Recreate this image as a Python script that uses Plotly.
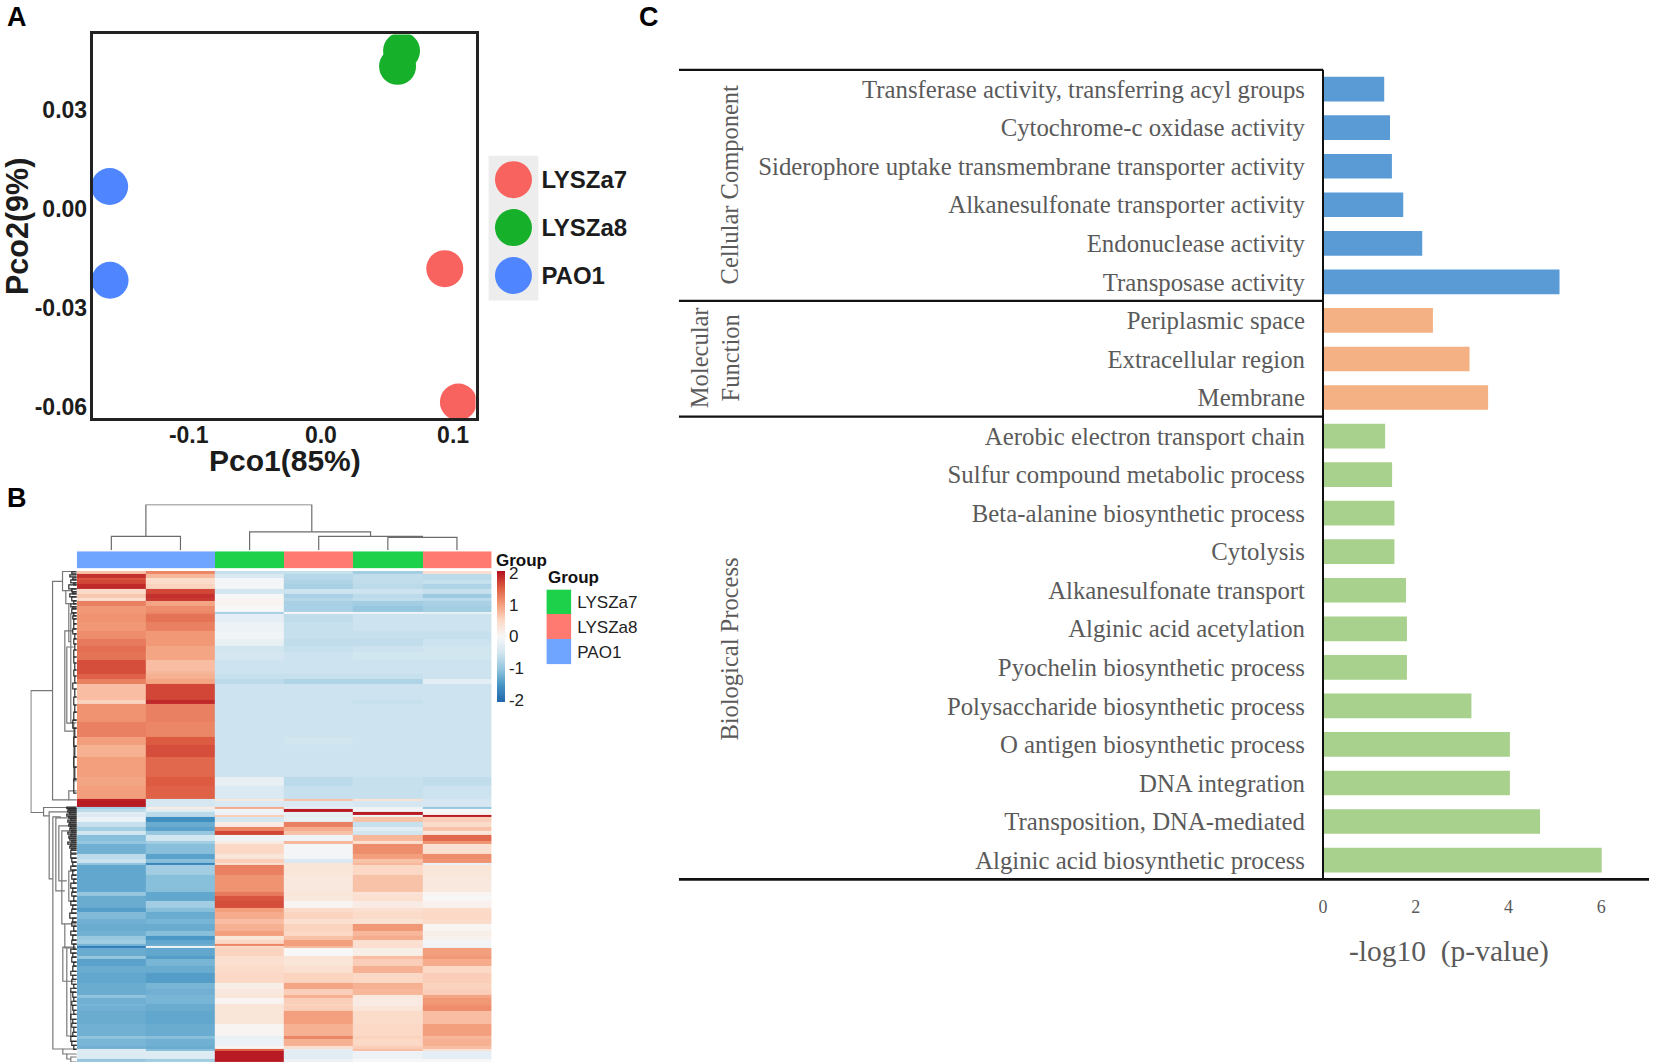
import plotly.graph_objects as go

W, H = 1654, 1064

# ---------- Panel A ----------
pco_groups = ["LYSZa7", "LYSZa8", "PAO1"]
pco_colors = ["#F8625F", "#17B02B", "#4F86FF"]
pco1_red = [0.0937, 0.1040]
pco2_red = [-0.0180, -0.0584]
pco1_green = [0.0610, 0.0580]
pco2_green = [0.0480, 0.0433]
pco1_blue = [-0.1598, -0.1595]
pco2_blue = [0.0069, -0.0215]

# ---------- Panel B ----------
heat_cols = ["PAO1", "PAO1", "LYSZa7", "LYSZa8", "LYSZa7", "LYSZa8"]
band_rows = [2.7,4,2.7,3.3,5.3,4.7,4.7,2.7,5.3,6,2,8,8.3,8.3,6.7,6.7,7.3,11,
             3.3,5,5,16,4.3,18,15,7.3,12,20,9,
             13.3,2,5.7,2.3,2.7,3.3,2.3,4.3,5.7,3.3,4.3,5.7,3.3,10,5,4,2,10,17.3,4,4.3,
             7.7,4,6.7,5,6.7,5.7,3.3,4.3,1.7,2.7,7.3,3.3,6.7,6.7,10.7,6,5.7,2.7,6.7,1.7,
             5,13.3,11.7,2.7,7.3,3.3,2,8,2.7]
c1 = [.7,1.85,1.6,1.7,1.9,.45,.65,.4,1.25,1.05,1.05,1.1,1.05,1.15,1.3,1.4,1.35,1.65,
      1.65,1.5,1.25,.75,.55,1.1,1.25,1.0,.85,1.0,.95,
      1.0,1.95,2,-.9,-.7,-.3,-.4,-.15,-.6,-.9,-.5,-1.1,-1,-1.25,-.7,-.55,-1,-1.35,-1.35,-1,-1.3,
      -1.3,-1.45,-1.15,-1.25,-1.3,-1.25,-1,-.9,-1.2,-1.8,-1.3,-1,-1.4,-1.3,-1.35,-1.3,-1.3,-1.05,-1.25,-1.2,
      -1.25,-1.3,-1.25,-1.05,-1.2,-1.25,-.35,-.35,-1]
c2 = [1.2,.8,.45,.45,.55,1.7,1.85,1.8,.95,1.15,1.2,1.35,1.25,1.05,1.05,.95,.95,.75,
      .8,.85,.95,1.7,1.9,1.25,1.2,1.55,1.65,1.45,1.55,
      1.5,-.45,-.45,.2,-.3,-.7,-.7,-1.6,-1.3,-1.4,-1,-.5,-.9,-1.1,-1.4,-1.1,-1.7,-.9,-1.1,-1.35,-1.35,
      -.9,-1.1,-1.3,-1.2,-1.3,-1.1,-1.5,-1.35,-1.3,-.1,-1.35,-1.45,-1.2,-1.3,-1.45,-1.2,-1.25,-1.2,-1.2,-1.3,
      -1.3,-1.35,-1.3,-1.1,-1.25,-1.3,-1.1,-.35,-.9]
c3 = [-.6,-.4,-.05,-.05,-.05,-.5,0,.05,.05,0,-.85,-.25,-.15,-.1,-.2,-.5,-.45,-.55,
      -.55,-.6,-.7,-.55,-.55,-.55,-.55,-.55,-.55,-.55,-.2,
      -.4,.25,-.4,.9,-.1,-.15,.6,-.5,.2,1.2,1.7,-.1,.2,.5,.3,.6,.4,1.25,1.1,1.3,1.6,
      1.65,1,.9,.75,.85,1,.3,.5,1.2,.5,.55,.4,.4,.45,.5,.15,.25,.3,.05,.3,
      .3,.3,.05,-.2,-.15,.05,1.5,2,2]
c4 = [-.6,-.75,-.75,-.8,-.85,-.55,-.85,-.75,-.85,-.85,0,-.65,-.6,-.6,-.65,-.6,-.55,-.55,
      -.55,-.6,-.8,-.55,-.55,-.55,-.55,-.5,-.55,-.55,-.7,
      -.6,.7,-.4,-.2,2,-.2,-.3,-.2,1.25,.9,.7,-.1,.8,-.05,-.05,-.4,.3,.3,.25,.3,.25,
      .05,.45,.55,.4,.55,.5,.7,1,1,.8,0,.3,.3,.4,.55,.95,.6,.85,.6,.55,
      .6,1,.85,1.2,.85,.4,-.25,-.3,-.15]
c5 = [-.9,-.65,-.65,-.65,-.7,-.55,-.7,-.65,-.9,-1,-.1,-.55,-.55,-.6,-.65,-.55,-.5,-.55,
      -.55,-.6,-.8,-.55,-.6,-.55,-.55,-.55,-.55,-.55,-.6,
      -.6,.35,-.45,-.15,-.1,2,-.1,.7,-.6,-.3,-.5,.8,.4,1.15,1,.7,.8,.5,.7,.35,.4,
      .2,.4,.45,.35,1.05,.8,.9,.4,.4,.4,.15,.75,.6,.85,.5,.85,.8,.25,.2,.2,
      .3,.45,.5,.55,.5,.6,.75,-.15,0]
c6 = [.4,-.7,-.7,-.6,-.8,-.6,-.95,-.7,-.85,-.9,-.2,-.55,-.55,-.6,-.55,-.5,-.5,-.55,
      -.55,-.55,-.25,-.55,-.55,-.55,-.55,-.55,-.55,-.55,-.65,
      -.55,-.45,-.45,-1,0,.05,2,.6,.45,.7,.3,1.45,1.1,.4,1.15,1.1,-.2,.3,.25,.05,0,
      .1,.45,.5,.45,.05,.15,.1,-.05,-.1,-.1,1,1.05,.9,.5,.6,.55,.6,.95,1.05,1.1,
      1.15,.75,1,.8,.85,.75,.35,-.25,0]
colorbar_ticks = [-2, -1, 0, 1, 2]
colorbar_text = ["-2", "-1", "0", "1", "2"]

# column dendrogram: merges (left position, right position, height, left child height, right child height)
col_left = [0.5, 4.5, 3.5, 2.5, 1.0]
col_right = [1.5, 5.5, 5.0, 4.25, 3.4]
col_height = [37, 34, 37, 49, 122]
col_left_child = [0, 0, 0, 0, 37]
col_right_child = [0, 0, 34, 37, 49]

# row dendrogram brackets, position along rows and depth to the left of the heat map
br_depth = [46,24.3,14.3,11,8,6,3, 8,33.3,27.7,24,21,18,15,12,10,6,14,10,6, 12,10,8,14]
br_y0 = [119.7,10.4,0.4,19.7,32.7,42.7,151.7, 219.7,236.4,240.7,245.7,246.7,254.7,259.7,352.7,376.7,420.7,477.7,482.7,485.7, 60,76,300,376]
br_y1 = [241.4,228.7,19.7,32.7,70.7,151.7,209.7, 228.7,244.7,307.7,477.7,319.7,309.7,352.7,376.7,464.7,464.7,482.7,487.7,490.7, 160,152,330,410]
br_top = [24.3,14.3,1,4,6,3,0, 0,1,0,16,0,0,0,0,3,1,0,0,0, 4,3,2,1]
br_bot = [33.3,8,11,8,6,3,0, 0,27.7,24,14,12,10,12,10,6,2,10,6,0, 2,2,1,1]
# fine leaf brackets close to the heat map
tuft_d = [5,7,4,6,3,8,5,4,7,5,3,6,4,5,3,4,3,3,4,2,3,2,3,3,2,3,2,4,2,3,2,3,4,2,3,2,3,2,3,
          10,8,9,7,10,8,6,9,7,8,6,7,5,9,6,8,7,5,9,6,7,5,6,
          6,5,4,6,4,5,3,6,4,5,3,6,4,5,7,4,5,3,6,4,5,3,6,4,5,3,4,6,4,5,3,6,4,3,5,4,3,6,4,5,3,4,6,5,3]
tuft_y0 = [1,4,7,9,12,14,18,21,23,26,30,33,36,38,42,45,48,53,58,63,68,73,79,86,92,99,105,112,118,
           126,134,141,149,157,166,175,186,196,208,
           236,237.5,239,241,243,245,247,249,251,253,255,257,259,261,263,265,267,269,271,273,275,277,279,
           283,287,291,295,299,304,308,312,317,321,325,330,334,338,342,347,351,355,360,364,369,373,378,382,386,391,395,400,404,408,413,417,421,426,430,434,439,443,448,452,456,461,465,470,474]
tuft_y1 = [3,6,9,12,14,18,21,23,26,30,33,36,38,42,45,48,53,58,63,68,73,79,86,92,99,105,112,118,126,
           134,141,149,157,166,175,186,196,208,222,
           237.5,239,241,243,245,247,249,251,253,255,257,259,261,263,265,267,269,271,273,275,277,279,282,
           287,291,295,299,304,308,312,317,321,325,330,334,338,342,347,351,355,360,364,369,373,378,382,386,391,395,400,404,408,413,417,421,426,430,434,439,443,448,452,456,461,465,470,474,478]

# ---------- Panel C ----------
go_terms = ["Transferase activity, transferring acyl groups", "Cytochrome-c oxidase activity",
            "Siderophore uptake transmembrane transporter activity", "Alkanesulfonate transporter activity",
            "Endonuclease activity", "Transposase activity",
            "Periplasmic space", "Extracellular region", "Membrane",
            "Aerobic electron transport chain", "Sulfur compound metabolic process",
            "Beta-alanine biosynthetic process", "Cytolysis", "Alkanesulfonate transport",
            "Alginic acid acetylation", "Pyochelin biosynthetic process",
            "Polysaccharide biosynthetic process", "O antigen biosynthetic process", "DNA integration",
            "Transposition, DNA-mediated", "Alginic acid biosynthetic process"]
cc_values = [1.32, 1.445, 1.486, 1.73, 2.14, 5.10]
mf_values = [2.37, 3.16, 3.56]
bp_values = [1.34, 1.49, 1.54, 1.54, 1.79, 1.81, 1.81, 3.20, 4.03, 4.03, 4.68, 6.01]

SANS = "Liberation Sans"
SERIF = "Liberation Serif"
INK = "#1c1c1c"
GREY = "#5a5a5a"

# panel frames, in page pixels
HEAT_L, HEAT_R, HEAT_T, HEAT_B = 72, 488, 572, 1064


def dx(l, r):
    return [l / W, r / W]


def dy(t, b):
    return [1 - b / H, 1 - t / H]


fig = go.Figure()
hidden = dict(visible=False, showgrid=False, zeroline=False)

# --- A scatter
for xs, ys, col, name in [(pco1_red, pco2_red, pco_colors[0], pco_groups[0]),
                          (pco1_green, pco2_green, pco_colors[1], pco_groups[1]),
                          (pco1_blue, pco2_blue, pco_colors[2], pco_groups[2])]:
    fig.add_trace(go.Scatter(x=xs, y=ys, mode="markers", name=name, xaxis="x", yaxis="y",
                             marker=dict(size=37, color=col), showlegend=False))
fig.add_trace(go.Scatter(x=[0, 0, 0], y=pco_groups, mode="markers", xaxis="x2", yaxis="y2",
                         marker=dict(size=37, color=pco_colors), showlegend=False))

# --- B heat map
band_edges = [0]
for r in band_rows:
    band_edges.append(band_edges[-1] + r)
total_rows = band_edges[-1]
z = [list(v) for v in zip(c1, c2, c3, c4, c5, c6)]
rdbu = ["#2166AC", "#4393C3", "#92C5DE", "#D1E5F0", "#F7F7F7", "#FCD8C4", "#F29B78", "#DD5B41", "#B2101F"]
fig.add_trace(go.Heatmap(z=z, x=list(range(7)), y=band_edges, xaxis="x3", yaxis="y3",
                         zmin=-2.07, zmax=2.07,
                         colorscale=[[i / 8, c] for i, c in enumerate(rdbu)],
                         colorbar=dict(x=493 / W, xanchor="left", xpad=0, thickness=8.4,
                                       lenmode="pixels", len=131, y=1 - 637.7 / H, yanchor="middle", ypad=0,
                                       outlinewidth=0, tickmode="array", tickvals=colorbar_ticks,
                                       ticktext=colorbar_text, ticks="",
                                       tickfont=dict(family=SANS, size=17, color="#222"))))

# group strip
strip_levels = {"PAO1": 0, "LYSZa7": 1, "LYSZa8": 2}
group_scale = [[0, "#6FA4FF"], [0.5, "#1DD14B"], [1, "#FF7B72"]]
fig.add_trace(go.Heatmap(z=[[strip_levels[c] for c in heat_cols]], x=list(range(7)), y=[0, 1],
                         xaxis="x4", yaxis="y4", zmin=0, zmax=2, colorscale=group_scale, showscale=False))

# group legend swatches
legend_names = ["LYSZa7", "LYSZa8", "PAO1"]
fig.add_trace(go.Heatmap(z=[[strip_levels[n]] for n in legend_names], x=[0], y=legend_names,
                         xaxis="x5", yaxis="y5", zmin=0, zmax=2, colorscale=group_scale, showscale=False))

# column dendrogram
cx, cy = [], []
for l, r, h, lc, rc in zip(col_left, col_right, col_height, col_left_child, col_right_child):
    cx += [l, l, r, r, None]
    cy += [lc, h, h, rc, None]
fig.add_trace(go.Scatter(x=cx, y=cy, mode="lines", xaxis="x6", yaxis="y6", showlegend=False,
                         line=dict(color="#6b6b6b", width=1.2)))

# row dendrogram
rx, ry = [], []
for d, y0, y1, t, b in zip(br_depth, br_y0, br_y1, br_top, br_bot):
    rx += [t, d, d, b, None]
    ry += [y0, y0, y1, y1, None]
fig.add_trace(go.Scatter(x=rx, y=ry, mode="lines", xaxis="x7", yaxis="y7", showlegend=False,
                         line=dict(color="#777777", width=1.2)))
tx, ty = [], []
for d, y0, y1 in zip(tuft_d, tuft_y0, tuft_y1):
    tx += [0, d, d, 0, None]
    ty += [y0, y0, y1, y1, None]
fig.add_trace(go.Scatter(x=tx, y=ty, mode="lines", xaxis="x7", yaxis="y7", showlegend=False,
                         line=dict(color="#2a2a2a", width=1.2)))

# --- C bars
n_cc, n_mf = len(cc_values), len(mf_values)
for terms, vals, col in [(go_terms[:n_cc], cc_values, "#5B9BD5"),
                         (go_terms[n_cc:n_cc + n_mf], mf_values, "#F4B183"),
                         (go_terms[n_cc + n_mf:], bp_values, "#A9D18E")]:
    fig.add_trace(go.Bar(x=vals, y=terms, orientation="h", width=0.64, xaxis="x8", yaxis="y8",
                         marker=dict(color=col, line=dict(width=0)), showlegend=False))


def pline(x0, y0, x1, y1, width=2.2):
    return dict(type="line", xref="paper", yref="paper", x0=x0 / W, x1=x1 / W,
                y0=1 - y0 / H, y1=1 - y1 / H, line=dict(color="#111", width=width))


shapes = [
    dict(type="rect", xref="paper", yref="paper", x0=485 / W, x1=535 / W, y0=1 - 301 / H, y1=1 - 156 / H,
         fillcolor="#EDEDED", line=dict(width=0), layer="below"),
    pline(676, 70, 1322, 70), pline(676, 301.5, 1322, 301.5), pline(676, 417.5, 1322, 417.5),
    pline(676, 881, 1649, 881, 2.8), pline(1322, 70, 1322, 881, 2),
]


def note(x, y, text, size, family=SANS, color=INK, bold=False, xanchor="left", angle=0):
    return dict(xref="paper", yref="paper", x=x / W, y=1 - y / H, xanchor=xanchor, yanchor="middle",
                text=f"<b>{text}</b>" if bold else text, showarrow=False, textangle=angle,
                font=dict(family=family, size=size, color=color))


annotations = [
    note(0, 17, "A", 27, bold=True, color="#000"),
    note(0, 499, "B", 27, bold=True, color="#000"),
    note(634, 17, "C", 27, bold=True, color="#000"),
    note(490.5, 561.5, "Group", 17, bold=True, color="#111"),
    note(542.5, 579, "Group", 17, bold=True, color="#111"),
    note(727, 185, "Cellular Component", 24.5, SERIF, GREY, xanchor="center", angle=-90),
    note(712, 358, "Molecular<br>Function", 24.5, SERIF, GREY, xanchor="center", angle=-90),
    note(727, 650, "Biological Process", 24.5, SERIF, GREY, xanchor="center", angle=-90),
    note(1448, 953, "-log10\u00a0\u00a0(p-value)", 29.5, SERIF, GREY, xanchor="center"),
    note(281, 461, "Pco1(85%)", 30, bold=True, xanchor="center"),
]

axis_a = dict(showgrid=False, zeroline=False, showline=True, mirror=True, linecolor="#222", linewidth=3,
              ticks="", tickfont=dict(family=SANS, size=23, color=INK))
axis_font = dict(family=SANS, size=30.5, color=INK)

fig.update_layout(
    width=W, height=H, margin=dict(l=0, r=0, t=0, b=0), paper_bgcolor="white", plot_bgcolor="white",
    showlegend=False, barmode="overlay", shapes=shapes, annotations=annotations,
    xaxis=dict(axis_a, domain=dx(88, 472), range=[-0.1726, 0.1170], tickmode="array",
               tickvals=[-0.1, 0.0, 0.1], ticktext=["<b>-0.1</b>", "<b>0.0</b>", "<b>0.1</b>"],
               ticklabelstandoff=-6, anchor="y"),
    yaxis=dict(axis_a, domain=dy(34.5, 419), range=[-0.0633, 0.05296], tickmode="array",
               tickvals=[-0.06, -0.03, 0.0, 0.03],
               ticktext=["<b>-0.06</b>", "<b>-0.03</b>", "<b>0.00</b>", "<b>0.03</b>"], ticklabelstandoff=-2,
               title=dict(text="<b>Pco2(9%)</b>", font=axis_font, standoff=4), anchor="x"),
    xaxis2=dict(hidden, domain=dx(485, 535), range=[-1, 1], anchor="y2"),
    yaxis2=dict(domain=dy(156, 301), autorange=False, range=[2.52, -0.5], type="category",
                categoryorder="array", categoryarray=pco_groups, side="right", anchor="x2",
                showgrid=False, zeroline=False, showline=False, ticks="", ticklabelstandoff=2,
                tickmode="array", tickvals=pco_groups, ticktext=[f"<b>{g}</b>" for g in pco_groups],
                tickfont=dict(family=SANS, size=24, color=INK)),
    xaxis3=dict(hidden, domain=dx(HEAT_L, HEAT_R), range=[0, 6], anchor="y3"),
    yaxis3=dict(hidden, domain=dy(HEAT_T, HEAT_B), range=[total_rows, 0], anchor="x3"),
    xaxis4=dict(hidden, domain=dx(HEAT_L, HEAT_R), range=[0, 6], anchor="y4"),
    yaxis4=dict(hidden, domain=dy(552.3, 569.5), range=[0, 1], anchor="x4"),
    xaxis5=dict(hidden, domain=dx(543, 568), anchor="y5"),
    yaxis5=dict(domain=dy(590.5, 665.5), autorange=False, range=[2.5, -0.5], type="category",
                categoryorder="array", categoryarray=legend_names, side="right", anchor="x5",
                showgrid=False, zeroline=False, showline=False, ticks="", ticklabelstandoff=5,
                tickfont=dict(family=SANS, size=17, color="#222")),
    xaxis6=dict(hidden, domain=dx(HEAT_L, HEAT_R), range=[0, 6], anchor="y6"),
    yaxis6=dict(hidden, domain=dy(505.5, 551.2), range=[0, 122], anchor="x6"),
    xaxis7=dict(hidden, domain=dx(25.5, HEAT_L), range=[46.5, 0], anchor="y7"),
    yaxis7=dict(hidden, domain=dy(HEAT_T, HEAT_B), range=[490.7, 0], anchor="x7"),
    xaxis8=dict(domain=dx(1322, 1649), range=[0, 7.03], anchor="y8", tickmode="array", tickvals=[0, 2, 4, 6],
                showgrid=False, zeroline=False, showline=False, ticks="", ticklabelstandoff=15,
                tickfont=dict(family=SERIF, size=18, color=GREY)),
    yaxis8=dict(domain=dy(70, 881), autorange=False, range=[20.5, -0.5], type="category",
                categoryorder="array", categoryarray=go_terms, anchor="x8",
                showgrid=False, zeroline=False, showline=False, ticks="", ticklabelstandoff=17,
                tickmode="array", tickvals=go_terms, ticktext=go_terms,
                tickfont=dict(family=SERIF, size=24.8, color=GREY)),
)

fig.write_html("out.html", config={"displayModeBar": False},
               post_script="document.body.style.margin='0';document.body.style.overflow='hidden';")
